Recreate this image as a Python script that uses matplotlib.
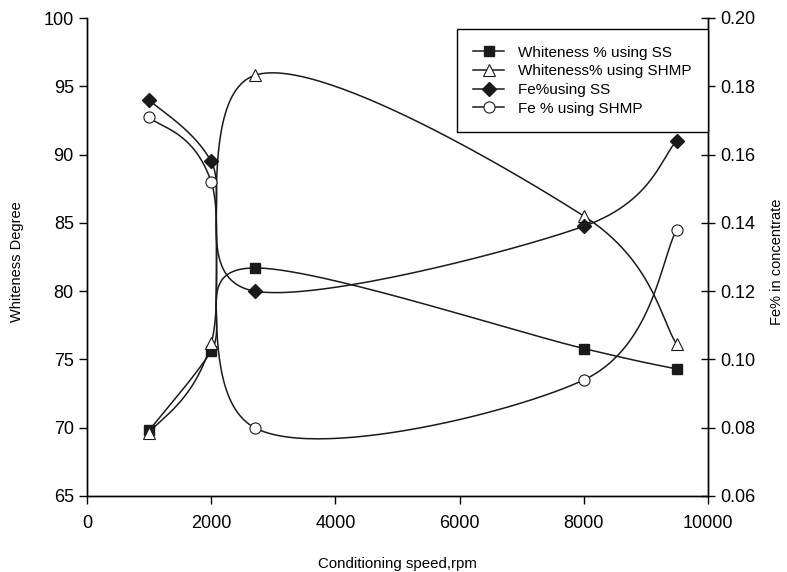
import numpy as np
import matplotlib.pyplot as plt

plt.rcParams['font.family'] = ['Liberation Sans', 'DejaVu Sans']

# data
speed = [1000, 2000, 2700, 8000, 9500]
white_ss = [69.8, 75.6, 81.7, 75.8, 74.3]
white_shmp = [69.6, 76.2, 95.8, 85.5, 76.1]
fe_ss = [0.176, 0.158, 0.120, 0.139, 0.164]
fe_shmp = [0.171, 0.152, 0.080, 0.094, 0.138]

xlim = (0, 10000)
ylim_w = (65, 100)
ylim_fe = (0.06, 0.20)


def smooth(x, y, ylim, n=60):
    # catmull-rom (excel style smoothing) in screen-like units
    sx = (xlim[1] - xlim[0]) / 618.0
    sy = (ylim[1] - ylim[0]) / 478.0
    p = np.column_stack([np.array(x, float) / sx, (np.array(y, float) - ylim[0]) / sy])
    p = np.vstack([p[0], p, p[-1]])
    out = []
    t = np.linspace(0, 1, n)[:, None]
    for i in range(1, len(p) - 2):
        p0, p1, p2, p3 = p[i - 1], p[i], p[i + 1], p[i + 2]
        c1 = p1 + (p2 - p0) / 6
        c2 = p2 - (p3 - p1) / 6
        seg = (1 - t) ** 3 * p1 + 3 * (1 - t) ** 2 * t * c1 + 3 * (1 - t) * t ** 2 * c2 + t ** 3 * p2
        out.append(seg)
    out = np.vstack(out)
    return out[:, 0] * sx, out[:, 1] * sy + ylim[0]


fig = plt.figure(figsize=(7.87, 5.72), dpi=100)
ax = fig.add_axes([87 / 787, 1 - 496 / 572, 621 / 787, 478 / 572])
ax2 = ax.twinx()

handles = []

cx, cy = smooth(speed, white_ss, ylim_w)
l, = ax.plot(cx, cy, color='#1a1a1a', lw=1.1)
m, = ax.plot(speed, white_ss, ls='none', marker='s', ms=7, mfc='#1a1a1a', mec='#1a1a1a', zorder=3)
handles.append((l, m))

cx, cy = smooth(speed, white_shmp, ylim_w)
l, = ax.plot(cx, cy, color='#1a1a1a', lw=1.1)
m, = ax.plot(speed, white_shmp, ls='none', marker='^', ms=8, mfc='white', mec='#1a1a1a', mew=0.8, zorder=3)
handles.append((l, m))

cx, cy = smooth(speed, fe_ss, ylim_fe)
l, = ax2.plot(cx, cy, color='#1a1a1a', lw=1.1)
m, = ax2.plot(speed, fe_ss, ls='none', marker='D', ms=7, mfc='#1a1a1a', mec='#1a1a1a', zorder=3)
handles.append((l, m))

cx, cy = smooth(speed, fe_shmp, ylim_fe)
l, = ax2.plot(cx, cy, color='#1a1a1a', lw=1.1)
m, = ax2.plot(speed, fe_shmp, ls='none', marker='o', ms=8, mfc='white', mec='#1a1a1a', mew=0.8, zorder=3)
handles.append((l, m))

ax.set_xlim(*xlim)
ax.set_ylim(*ylim_w)
ax2.set_ylim(*ylim_fe)
ax.set_xticks(range(0, 10001, 2000))
ax.set_yticks(range(65, 101, 5))
ax2.set_yticks([0.06, 0.08, 0.10, 0.12, 0.14, 0.16, 0.18, 0.20])
ax2.set_yticklabels(['%.2f' % v for v in ax2.get_yticks()])

for a in (ax, ax2):
    a.spines['top'].set_visible(False)
    for s in a.spines.values():
        s.set_linewidth(1.0)
ax.tick_params(axis='both', labelsize=13, direction='out', length=6, width=1)
ax2.tick_params(axis='y', labelsize=13, direction='inout', length=10, width=1)
ax.tick_params(axis='x', pad=8)

ax.set_xlabel('Conditioning speed,rpm', fontsize=10.8, labelpad=18)
ax.set_ylabel('Whiteness Degree', fontsize=10.5)
ax.yaxis.set_label_coords(-0.101, 0.49)
ax2.set_ylabel('Fe% in concentrate', fontsize=10.5)
ax2.yaxis.set_label_coords(1.1, 0.49)

labels = ['Whiteness % using SS', 'Whiteness% using SHMP', 'Fe%using SS', 'Fe % using SHMP']
leg = ax2.legend(handles, labels, loc='upper right', bbox_to_anchor=(708 / 787, 1 - 29 / 572),
                 bbox_transform=fig.transFigure, fontsize=11, frameon=True, fancybox=False,
                 edgecolor='black', framealpha=1, borderpad=1.1, labelspacing=0.3,
                 handlelength=2.0, handletextpad=0.9, borderaxespad=0)
leg.get_frame().set_linewidth(1.0)

fig.savefig('out.png', dpi=100)
